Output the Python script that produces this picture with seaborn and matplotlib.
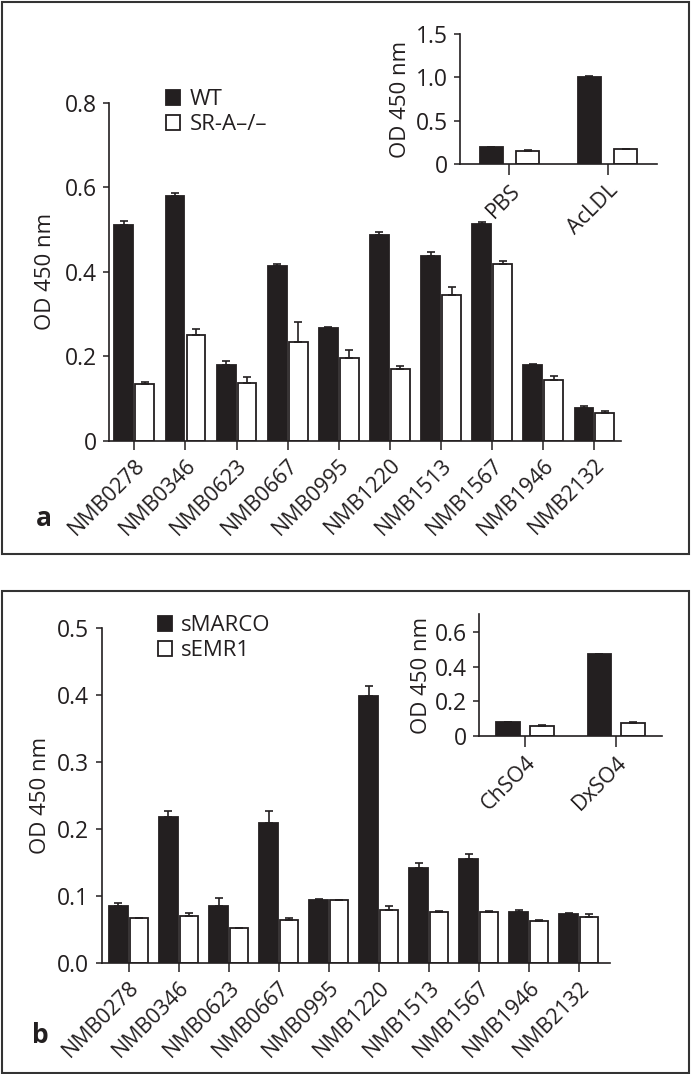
import numpy as np
import pandas as pd
import seaborn as sns
import matplotlib.pyplot as plt
import matplotlib.patches as mpatches

###############################
######### data ################
###############################
genes = ['NMB0278', 'NMB0346', 'NMB0623', 'NMB0667', 'NMB0995',
         'NMB1220', 'NMB1513', 'NMB1567', 'NMB1946', 'NMB2132']

## panel a: WT vs SR-A-/- macrophages
wt = [0.511, 0.578, 0.178, 0.414, 0.267, 0.487, 0.436, 0.512, 0.179, 0.078]
wt_err = [0.008, 0.009, 0.011, 0.005, 0.002, 0.008, 0.010, 0.006, 0.003, 0.004]
sra = [0.134, 0.249, 0.137, 0.233, 0.196, 0.169, 0.346, 0.418, 0.144, 0.066]
sra_err = [0.006, 0.015, 0.013, 0.049, 0.019, 0.008, 0.018, 0.007, 0.008, 0.004]

ctrl_a = ['PBS', 'AcLDL']
ctrl_wt = [0.193, 1.005]
ctrl_wt_err = [0.003, 0.015]
ctrl_sra = [0.154, 0.170]
ctrl_sra_err = [0.002, 0.004]

## panel b: sMARCO vs sEMR1
smarco = [0.086, 0.219, 0.085, 0.209, 0.095, 0.399, 0.142, 0.156, 0.077, 0.074]
smarco_err = [0.004, 0.008, 0.012, 0.018, 0.001, 0.015, 0.007, 0.007, 0.003, 0.001]
semr1 = [0.067, 0.071, 0.052, 0.065, 0.094, 0.080, 0.076, 0.077, 0.063, 0.069]
semr1_err = [0.001, 0.004, 0.001, 0.002, 0.001, 0.005, 0.002, 0.001, 0.001, 0.004]

ctrl_b = ['ChSO4', 'DxSO4']
ctrl_smarco = [0.080, 0.470]
ctrl_smarco_err = [0.002, 0.002]
ctrl_semr1 = [0.061, 0.078]
ctrl_semr1_err = [0.001, 0.002]

names_a = ['WT', 'SR-A\u2013/\u2013']
names_b = ['sMARCO', 'sEMR1']

##############################
######## plot ################
##############################
sns.set_style('ticks')
plt.rcParams['font.family'] = ['Open Sans', 'DejaVu Sans']
ink = '#231f20'
fs = 16
fs_tick = 16.5
fs_xtick = 15.5
W, H = 691, 1074


def px_rect(left, top, right, bottom):
    return [left / W, 1 - bottom / H, (right - left) / W, (bottom - top) / H]


def bars(ax, cats, v1, e1, v2, e2, names, width, gap):
    df = pd.DataFrame({'cat': cats * 2,
                       'val': v1 + v2,
                       'grp': [names[0]] * len(cats) + [names[1]] * len(cats)})
    sns.barplot(data=df, x='cat', y='val', hue='grp', hue_order=names,
                palette={names[0]: ink, names[1]: 'white'},
                edgecolor=ink, linewidth=1.3, width=width, gap=gap,
                errorbar=None, legend=False, saturation=1, ax=ax)
    for cont, err in zip(ax.containers, [e1, e2]):
        for bar, e in zip(cont, err):
            x = bar.get_x() + bar.get_width() / 2
            ax.errorbar(x, bar.get_height(), yerr=[[0], [e]], fmt='none',
                        ecolor=ink, elinewidth=1.2, capsize=3, capthick=1.2,
                        zorder=1)


def style(ax, yticks, ylabels, xlim, ylim, label_x, xt_len=6.5):
    ax.set_xlim(xlim)
    ax.set_ylim(ylim)
    ax.set_yticks(yticks)
    ax.set_yticklabels(ylabels)
    ax.set_xlabel('')
    ax.set_ylabel('OD 450 nm', fontsize=fs, color=ink)
    ax.yaxis.set_label_coords(label_x, 0.5)
    for s in ['top', 'right']:
        ax.spines[s].set_visible(False)
    for s in ['left', 'bottom']:
        ax.spines[s].set_color(ink)
        ax.spines[s].set_linewidth(1.2)
    ax.tick_params(axis='y', length=4, width=1.1, pad=5, colors=ink, labelsize=fs_tick)
    ax.tick_params(axis='x', length=xt_len, width=1.1, pad=3.5, colors=ink, labelsize=fs_xtick)
    for t in ax.get_xticklabels():
        t.set_rotation(45)
        t.set_ha('right')
        t.set_va('top')
        t.set_rotation_mode('anchor')


def legend(ax, names, x, y):
    handles = [mpatches.Patch(facecolor=ink, edgecolor=ink, linewidth=1.3, label=names[0]),
               mpatches.Patch(facecolor='white', edgecolor=ink, linewidth=1.3, label=names[1])]
    leg = ax.legend(handles=handles, loc='upper left', bbox_to_anchor=(x / W, 1 - y / H),
                    bbox_transform=fig.transFigure, frameon=False, fontsize=fs,
                    handlelength=0.65, handleheight=0.65, handletextpad=0.4,
                    labelspacing=0.2, borderpad=0, borderaxespad=0)
    for t in leg.get_texts():
        t.set_color(ink)


fig = plt.figure(figsize=(W / 100, H / 100), dpi=100)

## panel frames
for top, bottom in [(2, 554), (591, 1073)]:
    fig.add_artist(mpatches.Rectangle((2 / W, 1 - bottom / H), 687 / W, (bottom - top) / H,
                                      transform=fig.transFigure, fill=False,
                                      edgecolor='#333333', linewidth=1.5))

##### panel a #######
ax1 = fig.add_axes(px_rect(109.3, 102.7, 621, 440.7))
bars(ax1, genes, wt, wt_err, sra, sra_err, names_a, 0.82, 0.1)
style(ax1, [0, 0.2, 0.4, 0.6, 0.8], ['0', '0.2', '0.4', '0.6', '0.8'],
      (-0.49, 9.52), (0, 0.8), -0.105)
legend(ax1, names_a, 166, 89)

ax2 = fig.add_axes(px_rect(460.3, 34, 656.7, 164))
bars(ax2, ctrl_a, ctrl_wt, ctrl_wt_err, ctrl_sra, ctrl_sra_err, names_a, 0.74, 0.36)
style(ax2, [0, 0.5, 1.0, 1.5], ['0', '0.5', '1.0', '1.5'],
      (-0.5, 1.5), (0, 1.5), -0.25, xt_len=8)

##### panel b #######
ax3 = fig.add_axes(px_rect(101.7, 628.3, 610, 963.3))
bars(ax3, genes, smarco, smarco_err, semr1, semr1_err, names_b, 0.82, 0.1)
style(ax3, [0, 0.1, 0.2, 0.3, 0.4, 0.5], ['0.0', '0.1', '0.2', '0.3', '0.4', '0.5'],
      (-0.54, 9.62), (0, 0.5), -0.1)
legend(ax3, names_b, 158, 615)

ax4 = fig.add_axes(px_rect(479.3, 614.3, 662, 736.3))
bars(ax4, ctrl_b, ctrl_smarco, ctrl_smarco_err, ctrl_semr1, ctrl_semr1_err, names_b, 0.74, 0.3)
style(ax4, [0, 0.2, 0.4, 0.6], ['0', '0.2', '0.4', '0.6'],
      (-0.5, 1.5), (0, 0.7), -0.26, xt_len=8)

## panel letters
fig.text(44 / W, 1 - 526 / H, 'a', fontsize=19, fontweight='bold', color=ink,
         ha='center', va='baseline')
fig.text(40.5 / W, 1 - 1043 / H, 'b', fontsize=19, fontweight='bold', color=ink,
         ha='center', va='baseline')

fig.savefig('out.png', dpi=100)
